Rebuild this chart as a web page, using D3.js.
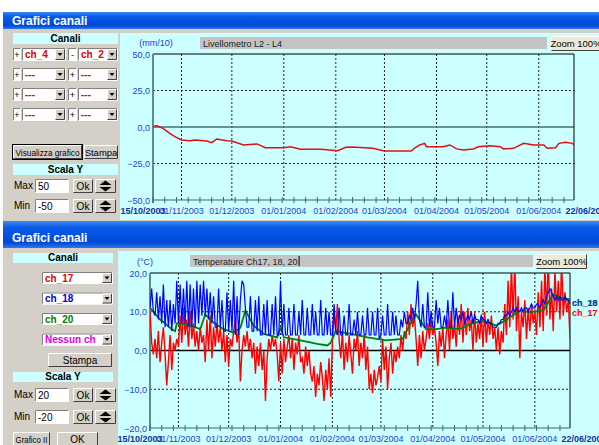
<!DOCTYPE html>
<html>
<head>
<meta charset="utf-8">
<script src="https://cdn.jsdelivr.net/npm/d3@7"></script>
<style>
  body { margin: 0; background: #fff; }
  svg { display: block; font-family: "Liberation Sans", Arial, sans-serif; }
</style>
</head>
<body>
<svg id="app" width="599" height="445"></svg>
<script>
// ---- data ----
const startDate = new Date(2003, 9, 15);
const endDate = new Date(2004, 5, 22);

// livellometro L2 - L4 (mm/10), day offset from 15/10/2003
const levelDays = [0,2,6,10,13,17,22,25,32,35,38,44,47,54,62,67,78,82,88,100,110,115,119,131,138,147,154,156,159,162,163,167,173,177,181,185,191,194,201,207,209,215,221,227,233,235,240,242,246,250,251];
const levelVals = [0.2,1,-0.9,-4.3,-6.6,-8.9,-9.4,-8.9,-9.6,-10.7,-8.2,-9.4,-9.6,-12.3,-11.6,-14.2,-14.2,-13.5,-15.3,-15.3,-16.2,-13.9,-13.7,-14.6,-16.4,-16.4,-16.4,-14.4,-12.3,-11.2,-13.5,-13.5,-13.5,-12.3,-15,-15.8,-15,-13.5,-12.8,-13.5,-15,-14.6,-11.2,-12.3,-12.3,-14.6,-14.2,-11.2,-10.5,-11.2,-12.3];

// temperature ch_17 (daily, °C)
const ch17 = [10,2,-1, 3,-2,5,-3,2,6,-1, -9,-3,4,-5, 2,0,3,1, 9,2,11,4,8,1,10,3,7,
  1,5,0,6,2,4, -3,8,0,9,-2,6,1,7, 2,6,0,5,-3,4, -4,3,1,5, 8,2,6,-8,0,
  4,1,5,0,3,-2,2, -6,1,-4,2,-5,0, -13,-2,3, 0,4,1,3,-1, -8,2,-6,3,-3,1,
  4,-2,3,-5,2,-1,4,-3, -2,-6,1,-4,0,-6, -8,-4,-12,-6,-9,-3, -7,-13,-5,-10,-2,-12,
  2,10,5,12,3,-2, 5,-5,2,-3,4,-1, -6,3,0,5,-4,2,-2,4,-5,1,
  -10,-6,-11,-5,-9,-7,-4, -8,3,-5,1,-10,-2,2,-6,0,-3, 1,-2,4,0,5,3,
  10,4,12,6,9,3, -4,4,-2,5,0,3, 7,3,8,4,6,2, -4,5,1,6,-2,4,
  8,0,10,3,7,1,9,4, 12,2,10,4,11,5, 8,0,10,2,7,3,9,1, 10,2,8,4,9,3,6,0,
  6,-1,5,2, 12,4,18,6,22,8,23,5, 14,-2,10,6, 13,3,11,5,12,7,10,4,
  15,6,18,5,22,9,24,8,16,5,21,10, 18,8,23,9,15,10,13,3];

// temperature ch_18 (daily, °C)
const ch18 = [11,16,10,9,15,8,14,7,17,6,13,6,13,5,12,7,18,7,
  17,7,16,7,18,6,17,6,16,6,18,7,17,9,18,9,16,8,15,
  7,14,6,6,16,6,13,5,5,15,5,13,5,18,4,14,4,13,
  18,17,11,
  6,6,14,5,5,13,5,14,4,4,12,4,13,4,4,12,4,14,4,4,18,4,12,4,4,
  11,4,4,12,4,4,10,4,13,4,4,11,4,4,12,4,10,4,4,13,4,4,11,4,10,4,4,12,5,4,
  11,4,4,9,4,4,12,4,4,8,4,10,4,4,9,4,4,11,
  4,4,10,4,4,11,3,4,9,4,4,12,4,4,10,4,9,4,4,8,
  6,10,7,7,9,8,11,8,12,18,
  8,6,12,6,6,15,6,10,6,6,13,7,11,6,6,9,6,13,6,6,15,6,11,7,9,
  8,10,7,8,9,8,10,7,9,8,8,7,9,8,
  8,7,8,7,7,6,6,6,
  7,7,8,8,9,9,10,9,10,11,10,11,10,10,11,10,
  11,11,10,11,12,11,11,12,12,11,12,13,12,14,15,16,15,
  14,13,14,13,14,13,13,14,13,13,12];

// temperature ch_20 (°C) at day offsets
const ch20Days = [0,2,6,9,13,15,16,22,30,33,38,44,50,54,57,62,68,76,78,80,90,100,106,108,111,120,130,141,151,155,159,165,171,177,185,191,199,207,215,221,227,235,241,245,251];
const ch20Vals = [11,10,8,7,5.5,5,7,6.8,5.5,9.3,7.2,5.5,4.6,5.9,10.3,6.4,4.3,3.4,5.9,3.4,2.6,1.7,1.3,2,5,4.3,3.4,2.6,3,6.4,9.3,5.5,5.5,5.9,5.5,6.8,7.7,6.4,8.5,10.3,9.9,10.3,14.5,13.7,13.2];

const levelTicks = [-50, -25, 0, 25, 50];
const tempTicks = [-20, -10, 0, 10, 20];

// ---- page ----
const svg = d3.select('#app');
const fmtDate = d3.timeFormat('%d/%m/%Y');
const fmtVal = v => d3.format('.1f')(v).replace('.', ',');
const GRAY = '#d4d0c8', CYAN = '#ccffff', AXBLUE = '#2244cc';

const defs = svg.append('defs');
const grad = defs.append('linearGradient').attr('id', 'tb').attr('x1', 0).attr('y1', 0).attr('x2', 0).attr('y2', 1);
grad.append('stop').attr('offset', '0%').attr('stop-color', '#3b8bf6');
grad.append('stop').attr('offset', '25%').attr('stop-color', '#0a5ae8');
grad.append('stop').attr('offset', '80%').attr('stop-color', '#0048d8');
grad.append('stop').attr('offset', '100%').attr('stop-color', '#2f7ae8');

function bevel(g, x, y, w, h, sunken) {
  const lt = sunken ? '#808080' : '#ffffff', dk = sunken ? '#ffffff' : '#404040';
  g.append('path').attr('d', `M${x},${y + h}V${y}H${x + w}`).attr('stroke', lt).attr('fill', 'none');
  g.append('path').attr('d', `M${x},${y + h}H${x + w}V${y}`).attr('stroke', dk).attr('fill', 'none');
}
function button(g, x, y, w, h, label, opts = {}) {
  g.append('rect').attr('x', x).attr('y', y).attr('width', w).attr('height', h).attr('fill', opts.fill || GRAY);
  bevel(g, x + 0.5, y + 0.5, w - 1, h - 1, false);
  if (opts.dflt) g.append('rect').attr('x', x - 0.5).attr('y', y - 0.5).attr('width', w + 1).attr('height', h + 1).attr('fill', 'none').attr('stroke', '#000');
  if (label) {
    const t = g.append('text').attr('x', x + w / 2).attr('y', y + h / 2 + 3.5).attr('text-anchor', 'middle')
      .attr('font-size', opts.size || 10).attr('fill', '#000').text(label);
    if (opts.fit) t.attr('textLength', opts.fit).attr('lengthAdjust', 'spacingAndGlyphs');
  }
}
function field(g, x, y, w, h, label, color, bold) {
  g.append('rect').attr('x', x).attr('y', y).attr('width', w).attr('height', h).attr('fill', '#fff');
  bevel(g, x + 0.5, y + 0.5, w - 1, h - 1, true);
  if (label) g.append('text').attr('x', x + 3).attr('y', y + h / 2 + 3.5).attr('font-size', 10)
    .attr('font-weight', bold ? 'bold' : 'normal').attr('fill', color || '#000').text(label);
}
function combo(g, x, y, w, h, label, color) {
  field(g, x, y, w, h, label, color, true);
  const bx = x + w - 11;
  button(g, bx, y + 1, 10, h - 2, '');
  g.append('path').attr('d', `M${bx + 2.5},${y + h / 2 - 1.5}h5l-2.5,3z`).attr('fill', '#000');
}
function spinner(g, x, y, w, h) {
  button(g, x, y, w, h, '');
  const cx = x + w / 2, cy = y + h / 2;
  g.append('path').attr('d', `M${cx - 6},${cy - 1}L${cx},${cy - 5.5}L${cx + 6},${cy - 1}z`).attr('fill', '#000');
  g.append('path').attr('d', `M${cx - 6},${cy + 1}L${cx},${cy + 5.5}L${cx + 6},${cy + 1}z`).attr('fill', '#000');
}
function header(g, x, y, w, h, label) {
  g.append('rect').attr('x', x).attr('y', y).attr('width', w).attr('height', h).attr('fill', CYAN);
  g.append('text').attr('x', x + w / 2).attr('y', y + h - 2).attr('text-anchor', 'middle')
    .attr('font-size', 10).attr('font-weight', 'bold').attr('fill', '#000').text(label);
}
function titleBar(y, h, ty) {
  svg.append('rect').attr('x', 3).attr('y', y).attr('width', 596).attr('height', h).attr('fill', 'url(#tb)');
  svg.append('text').attr('x', 12).attr('y', ty).attr('font-size', 12).attr('font-weight', 'bold')
    .attr('fill', '#fff').text('Grafici canali');
}
function scaleRow(g, y, label, val) {
  g.append('text').attr('x', 14).attr('y', y + 10).attr('font-size', 10).text(label);
  field(g, 35, y, 34, 14, val);
  button(g, 73, y, 20, 14, 'Ok');
  spinner(g, 95, y, 21, 14);
}
function titleBox(x, y, w, label) {
  svg.append('rect').attr('x', x).attr('y', y).attr('width', w).attr('height', 12).attr('fill', '#c4c4c4');
  return svg.append('text').attr('x', x + 3).attr('y', y + 9.5).attr('font-size', 9).attr('fill', '#222').text(label);
}

// plot frame with axes; returns scales + group
function chart(c) {
  const g = svg.append('g');
  const x = d3.scaleTime().domain([startDate, endDate]).range([c.left, c.right]);
  const y = d3.scaleLinear().domain([c.ticks[0], c.ticks[c.ticks.length - 1]]).range([c.bottom, c.top]);
  const months = d3.timeMonth.range(new Date(2003, 10, 1), endDate);

  g.selectAll('.vg').data(months).join('line')
    .attr('x1', d => x(d)).attr('x2', d => x(d)).attr('y1', c.top).attr('y2', c.bottom)
    .attr('stroke', '#222').attr('stroke-dasharray', '2,2');
  g.selectAll('.hg').data(c.ticks.filter(t => t !== 0 && t !== c.ticks[0] && t !== c.ticks[c.ticks.length - 1])).join('line')
    .attr('x1', c.left).attr('x2', c.right).attr('y1', d => y(d)).attr('y2', d => y(d))
    .attr('stroke', '#222').attr('stroke-dasharray', '2,2');
  g.append('line').attr('x1', c.left).attr('x2', c.right).attr('y1', y(0)).attr('y2', y(0))
    .attr('stroke', c.zeroColor).attr('stroke-width', 1.3);

  // frame
  g.append('path').attr('d', `M${c.left},${c.top}H${c.right}V${c.bottom}`).attr('stroke', '#000').attr('fill', 'none');
  g.append('line').attr('x1', c.left).attr('x2', c.right).attr('y1', c.bottom).attr('y2', c.bottom).attr('stroke', '#3d6b6b');
  g.append('line').attr('x1', c.left).attr('x2', c.left).attr('y1', c.top).attr('y2', c.bottom + 3)
    .attr('stroke', '#5a8c8c').attr('stroke-width', 2);

  // weekly ticks
  const weeks = d3.range(0, 252, 7).map(d => d3.timeDay.offset(startDate, d));
  g.selectAll('.wt').data(weeks).join('line')
    .attr('x1', d => x(d)).attr('x2', d => x(d)).attr('y1', c.bottom - 3).attr('y2', c.bottom + 3)
    .attr('stroke', '#3d6b6b');

  // y labels
  g.selectAll('.yl').data(c.ticks).join('text')
    .attr('x', c.left - 3).attr('y', d => y(d) + 3.5).attr('text-anchor', 'end')
    .attr('font-size', 9).attr('fill', AXBLUE).text(fmtVal);
  g.append('text').attr('x', c.unitX).attr('y', c.unitY).attr('text-anchor', 'middle')
    .attr('font-size', 9).attr('fill', AXBLUE).text(c.unit);

  // x labels
  g.selectAll('.xl').data(months).join('text')
    .attr('x', d => x(d)).attr('y', c.bottom + 14).attr('text-anchor', 'middle')
    .attr('font-size', 9).attr('fill', AXBLUE).text(fmtDate);
  g.append('text').attr('x', c.left - 10).attr('y', c.bottom + 14).attr('text-anchor', 'middle')
    .attr('font-size', 9).attr('font-weight', 'bold').attr('fill', '#1a2fa0').text(fmtDate(startDate));
  g.append('text').attr('x', c.right + 14).attr('y', c.bottom + 14).attr('text-anchor', 'middle')
    .attr('font-size', 9).attr('font-weight', 'bold').attr('fill', '#1a2fa0').text(fmtDate(endDate));

  const clip = defs.append('clipPath').attr('id', c.id);
  clip.append('rect').attr('x', c.left).attr('y', c.top).attr('width', c.right - c.left).attr('height', c.bottom - c.top);
  const plot = svg.append('g').attr('clip-path', `url(#${c.id})`);
  return { x, y, plot };
}

// ---- top window ----
titleBar(12, 17, 25);
svg.append('rect').attr('x', 3).attr('y', 29).attr('width', 596).attr('height', 192).attr('fill', GRAY);
const w1 = svg.append('g');
header(w1, 13, 33, 105, 11, 'Canali');
const rows1 = [['+', 'ch_4', '-', 'ch_2'], ['+', '---', '+', '---'], ['+', '---', '+', '---'], ['+', '---', '+', '---']];
rows1.forEach((r, i) => {
  const yy = 48 + i * 20;
  field(w1, 13, yy, 8, 13, '');
  w1.append('text').attr('x', 17).attr('y', yy + 10).attr('text-anchor', 'middle').attr('font-size', 9).text(r[0]);
  combo(w1, 22, yy, 44, 13, r[1], '#e00000');
  field(w1, 68, yy, 9, 13, '');
  w1.append('text').attr('x', 72.5).attr('y', yy + 10).attr('text-anchor', 'middle').attr('font-size', 9).text(r[2]);
  combo(w1, 78, yy, 40, 13, r[3], '#e00000');
});
button(w1, 13, 145, 69, 14, 'Visualizza grafico', { dflt: true, size: 9, fit: 64 });
button(w1, 84, 145, 34, 14, 'Stampa', { size: 9.5 });
header(w1, 13, 164, 105, 11, 'Scala Y');
scaleRow(w1, 179, 'Max', '50');
scaleRow(w1, 199, 'Min', '-50');

svg.append('rect').attr('x', 120).attr('y', 33).attr('width', 479).attr('height', 187).attr('fill', CYAN);
titleBox(200, 37, 347, 'Livellometro L2 - L4');
button(svg, 551, 36, 50, 15, 'Zoom 100%', { fill: '#ece9d8', size: 9.5 });

const c1 = chart({ id: 'clipTop', left: 153, right: 574, top: 54, bottom: 200, ticks: levelTicks,
  zeroColor: '#4a6e6e', unit: '(mm/10)', unitX: 156, unitY: 46 });
c1.plot.append('path')
  .datum(levelDays.map((d, i) => [d3.timeDay.offset(startDate, d), levelVals[i]]))
  .attr('fill', 'none').attr('stroke', '#dd1111').attr('stroke-width', 1.5)
  .attr('d', d3.line().x(d => c1.x(d[0])).y(d => c1.y(d[1])));

// ---- bottom window ----
titleBar(221, 27, 242);
svg.append('rect').attr('x', 3).attr('y', 248).attr('width', 596).attr('height', 197).attr('fill', GRAY);
const w2 = svg.append('g');
header(w2, 13, 253, 100, 10, 'Canali');
const chans = [['ch_17', '#e00000'], ['ch_18', '#0000e0'], ['ch_20', '#008000'], ['Nessun ch', '#e000e0']];
chans.forEach((ch, i) => combo(w2, 42, 272 + i * 20.5, 71, 12, ch[0], ch[1]));
button(w2, 48, 353, 64, 14, 'Stampa');
header(w2, 13, 372, 100, 10, 'Scala Y');
scaleRow(w2, 388, 'Max', '20');
scaleRow(w2, 410, 'Min', '-20');
button(w2, 13, 432, 37, 15, 'Grafico II', { size: 9, fit: 32 });
button(w2, 57, 432, 41, 15, 'OK');

svg.append('rect').attr('x', 118).attr('y', 251).attr('width', 481).attr('height', 194).attr('fill', CYAN);
const t2 = titleBox(190, 255, 343, 'Temperature Ch17, 18, 20');
const cx2 = 193 + t2.node().getComputedTextLength() + 1.5;
svg.append('line').attr('x1', cx2).attr('x2', cx2).attr('y1', 256).attr('y2', 266).attr('stroke', '#000');
button(svg, 536, 254, 51, 15, 'Zoom 100%', { fill: '#ece9d8', size: 9.5 });

const c2 = chart({ id: 'clipBot', left: 150, right: 570, top: 273, bottom: 428, ticks: tempTicks,
  zeroColor: '#000', unit: '(°C)', unitX: 145, unitY: 265 });
const lineT = d3.line().x(d => c2.x(d[0])).y(d => c2.y(d[1]));
const daily = arr => arr.map((v, i) => [d3.timeDay.offset(startDate, i), v]);
c2.plot.append('path').datum(daily(ch17)).attr('fill', 'none').attr('stroke', '#ff0000').attr('stroke-width', 1.4).attr('d', lineT);
c2.plot.append('path').datum(ch20Days.map((d, i) => [d3.timeDay.offset(startDate, d), ch20Vals[i]]))
  .attr('fill', 'none').attr('stroke', '#008000').attr('stroke-width', 1.8).attr('d', lineT);
c2.plot.append('path').datum(daily(ch18)).attr('fill', 'none').attr('stroke', '#0000ff').attr('stroke-width', 1.2).attr('d', lineT);

// series labels at right
svg.append('text').attr('x', 572).attr('y', 306).attr('font-size', 9).attr('font-weight', 'bold').attr('fill', '#0000ff').text('ch_18');
svg.append('text').attr('x', 572).attr('y', 306).attr('font-size', 9).attr('font-weight', 'bold').attr('fill', '#008000').attr('opacity', 0.6).text('ch_20');
svg.append('text').attr('x', 572).attr('y', 316).attr('font-size', 9).attr('font-weight', 'bold').attr('fill', '#ff0000').text('ch_17');
</script>
</body>
</html>
